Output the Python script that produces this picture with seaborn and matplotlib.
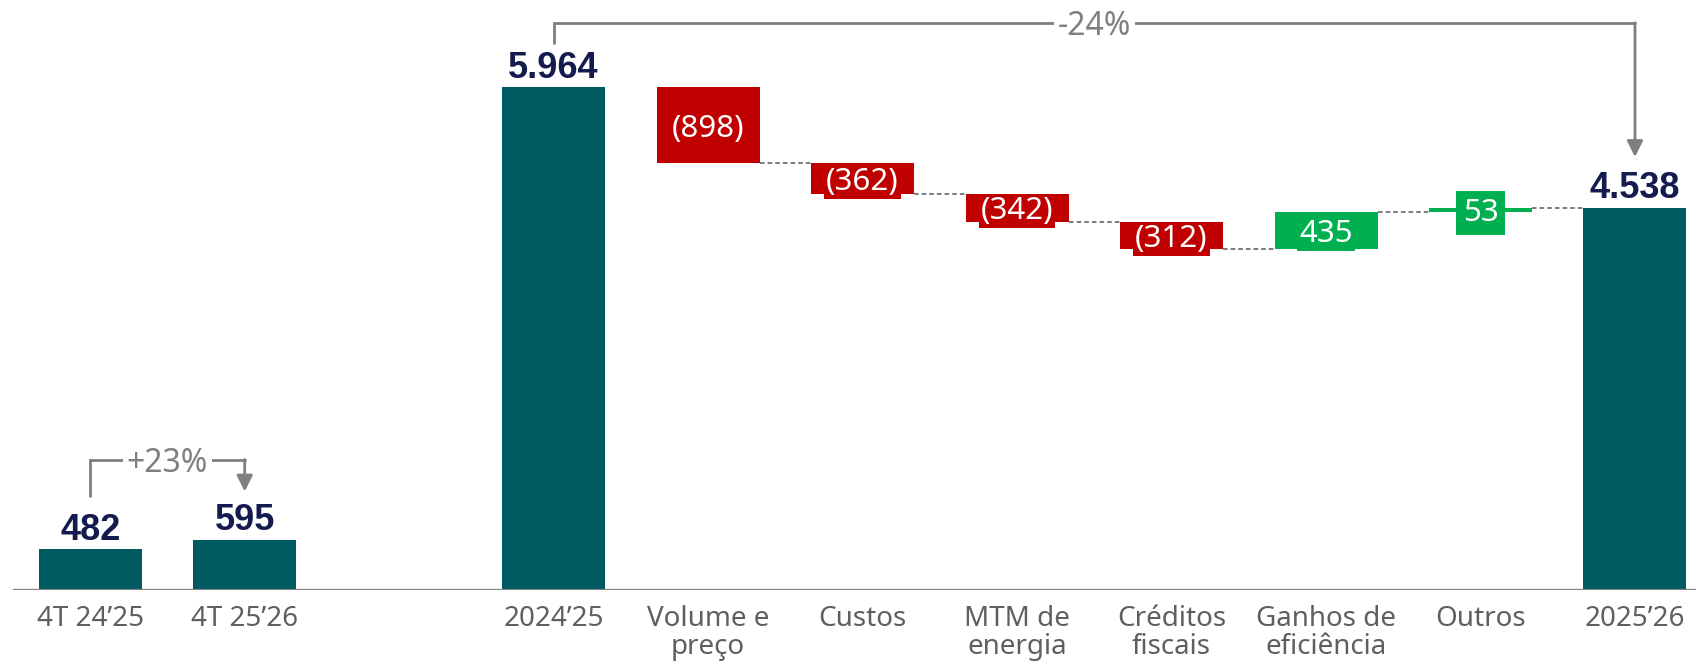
import numpy as np
import pandas as pd
import matplotlib
matplotlib.use("Agg")
import matplotlib.pyplot as plt
import seaborn as sns

# ---------------- data ----------------
categories = ["4T 24’25", "4T 25’26", "2024’25", "Volume e\npreço", "Custos",
              "MTM de\nenergia", "Créditos\nfiscais", "Ganhos de\neficiência",
              "Outros", "2025’26"]
values = [482, 595, 5964, -898, -362, -342, -312, 435, 53, 4538]
kinds = ["total", "total", "total", "delta", "delta", "delta", "delta",
         "delta", "delta", "total"]
value_labels = ["482", "595", "5.964", "(898)", "(362)", "(342)", "(312)",
                "435", "53", "4.538"]
pct_labels = ["+23%", "-24%"]

# ---------------- style ----------------
TEAL = "#005A62"
RED = "#C00000"
GREEN = "#00B050"
NAVY = "#141B4F"
TICK_GRAY = "#5F5F5F"
ANN_GRAY = "#7F7F7F"

sns.set_theme(style="white")
plt.rcParams["font.family"] = ["Noto Sans", "DejaVu Sans"]

fig = plt.figure(figsize=(16.96, 6.65), dpi=100)
ax = fig.add_axes([13 / 1696, 75 / 665, 1 - 13 / 1696, 590 / 665])

# layout: gap between the quarterly pair and the annual bridge
positions = [0, 1] + list(range(3, 3 + len(categories) - 2))
bar_w = 0.667

# waterfall geometry
bottoms, heights, colors, levels = [], [], [], []
running = 0
for v, k in zip(values, kinds):
    if k == "total":
        bottoms.append(0)
        heights.append(v)
        colors.append(TEAL)
        running = v
    else:
        if v < 0:
            bottoms.append(running + v)
            heights.append(-v)
            colors.append(RED)
        else:
            bottoms.append(running)
            heights.append(v)
            colors.append(GREEN)
        running += v
    levels.append(running)

df = pd.DataFrame({"pos": positions, "height": heights, "bottom": bottoms,
                   "color": colors, "label": value_labels, "kind": kinds,
                   "level": levels})

for _, r in df.iterrows():
    sns.barplot(x=[r["pos"]], y=[r["height"]], bottom=r["bottom"],
                native_scale=True, width=bar_w, color=r["color"],
                saturation=1, errorbar=None, linewidth=0, edgecolor="none",
                ax=ax, zorder=2)

# connectors between consecutive delta bars (and final total)
delta_idx = [i for i, k in enumerate(kinds) if k == "delta"]
for i in delta_idx:
    x0 = positions[i] + bar_w / 2
    x1 = positions[i + 1] - bar_w / 2
    ax.plot([x0, x1], [levels[i], levels[i]], color="#595959", lw=1.1,
            dashes=(3, 2), zorder=1)

# labels
for _, r in df.iterrows():
    if r["kind"] == "total":
        ax.annotate(r["label"], (r["pos"], r["height"]), xytext=(0, 7),
                    textcoords="offset points", ha="center", va="baseline",
                    fontsize=26, fontweight="bold", color=NAVY, zorder=4,
                    family=["Liberation Sans", "DejaVu Sans"])
    else:
        ymid = r["bottom"] + r["height"] / 2
        pad = 0.22 if r["height"] < 100 else 0.06
        ax.text(r["pos"], ymid, r["label"], ha="center",
                va="center_baseline", fontsize=22.5, color="white", zorder=4,
                bbox=dict(boxstyle=f"square,pad={pad}", fc=r["color"],
                          ec="none"))


# brackets
def bracket(i0, i1, start_gap, end_gap, ytop, text):
    x0, x1 = positions[i0], positions[i1]
    y0 = values[i0] + start_gap
    y1 = values[i1] + end_gap
    ax.plot([x0, x0, x1], [y0, ytop, ytop], color=ANN_GRAY, lw=2,
            solid_joinstyle="miter", zorder=3)
    ax.annotate("", xy=(x1, y1), xytext=(x1, ytop),
                arrowprops=dict(arrowstyle="-|>,head_length=0.8,head_width=0.4",
                                color=ANN_GRAY, lw=2, shrinkA=0, shrinkB=0),
                zorder=3)
    ax.text((x0 + x1) / 2, ytop, text, ha="center", va="center_baseline",
            fontsize=23, color=ANN_GRAY, zorder=5,
            bbox=dict(boxstyle="square,pad=0.12", fc="white", ec="none"))


bracket(0, 1, 628, 574, 1548, pct_labels[0])
bracket(2, 9, 529, 600, 6730, pct_labels[1])

# axes
ax.axhline(0, color="#808080", lw=1.6, zorder=3)
ax.set_xlim(-0.5, 10.395)
ax.set_ylim(0, 7000)
ax.set_xticks(positions)
ax.set_xticklabels(categories, linespacing=1.0)
ax.tick_params(axis="x", length=0, pad=11, labelsize=20, labelcolor=TICK_GRAY)
ax.set_yticks([])
ax.set_xlabel("")
ax.set_ylabel("")
for s in ax.spines.values():
    s.set_visible(False)

fig.savefig("out.png", dpi=100)
